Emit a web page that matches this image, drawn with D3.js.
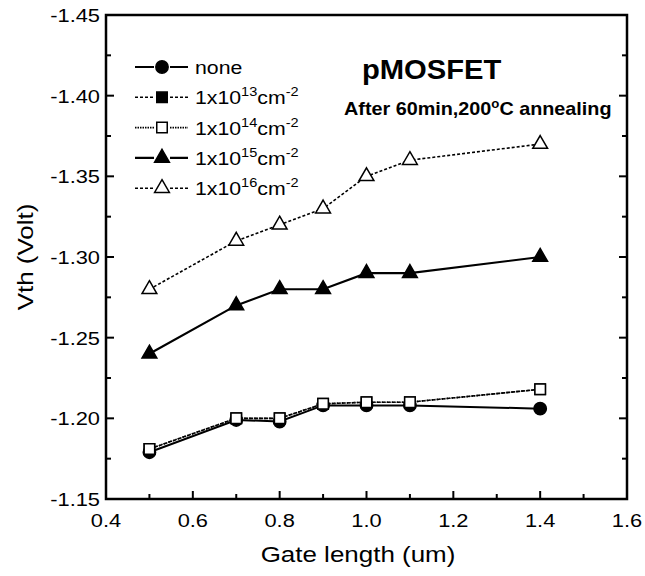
<!DOCTYPE html>
<html>
<head>
<meta charset="UTF-8">
<script src="https://d3js.org/d3.v7.min.js"></script>
<style>
  body { margin: 0; background: #fff; }
  text { font-family: "Liberation Sans", Arial, sans-serif; fill: #000; }
</style>
</head>
<body>
<svg width="645" height="576"></svg>
<script>
// gate length (um)
var gateLength = [0.5, 0.7, 0.8, 0.9, 1.0, 1.1, 1.4];
// threshold voltage (V) for each implant dose
var vthNone = [-1.179, -1.199, -1.198, -1.208, -1.208, -1.208, -1.206];
var vth1e13 = [-1.181, -1.200, -1.200, -1.209, -1.210, -1.210, -1.218];
var vth1e14 = [-1.181, -1.200, -1.200, -1.209, -1.210, -1.210, -1.218];
var vth1e15 = [-1.24, -1.27, -1.28, -1.28, -1.29, -1.29, -1.30];
var vth1e16 = [-1.28, -1.31, -1.32, -1.33, -1.35, -1.36, -1.37];
var doseExp = [null, 13, 14, 15, 16];

var xTicks = [0.4, 0.6, 0.8, 1.0, 1.2, 1.4, 1.6];
var yTicks = [-1.15, -1.20, -1.25, -1.30, -1.35, -1.40, -1.45];

var svg = d3.select("svg");
var pLeft = 106, pRight = 627, pTop = 15, pBottom = 499;

var x = d3.scaleLinear().domain([0.4, 1.6]).range([pLeft, pRight]);
var y = d3.scaleLinear().domain([-1.15, -1.45]).range([pBottom, pTop]);

// text helper, the scanned fonts are wider than Arial
function txt(g, px, py, s, size, anchor, sx, weight) {
  return g.append("text")
    .attr("transform", "translate(" + px + "," + py + ") scale(" + sx + ",1)")
    .attr("text-anchor", anchor)
    .style("font-size", size + "px")
    .style("font-weight", weight || "normal")
    .text(s);
}

// series styles
var series = [
  { v: vthNone, sym: d3.symbolCircle, size: 120, fill: "#000", dash: null, w: 2 },
  { v: vth1e13, sym: d3.symbolSquare, size: 110, fill: "#000", dash: "3,2", w: 1.6 },
  { v: vth1e14, sym: d3.symbolSquare, size: 110, fill: "#fff", dash: "1.5,1", w: 1.6 },
  { v: vth1e15, sym: d3.symbolTriangle, size: 95, fill: "#000", dash: null, w: 2.2 },
  { v: vth1e16, sym: d3.symbolTriangle, size: 95, fill: "#fff", dash: "3,2", w: 1.6 }
];

var line = d3.line().x(function(d) { return x(d[0]); }).y(function(d) { return y(d[1]); });

series.forEach(function(s) {
  var pts = gateLength.map(function(g, i) { return [g, s.v[i]]; });
  svg.append("path")
    .attr("d", line(pts))
    .attr("fill", "none")
    .attr("stroke", "#000")
    .attr("stroke-width", s.w)
    .attr("stroke-dasharray", s.dash);
  svg.selectAll(null).data(pts).enter().append("path")
    .attr("d", d3.symbol().type(s.sym).size(s.size))
    .attr("transform", function(d) { return "translate(" + x(d[0]) + "," + y(d[1]) + ")"; })
    .attr("fill", s.fill)
    .attr("stroke", "#000")
    .attr("stroke-width", 1.5);
});

// frame
svg.append("rect")
  .attr("x", pLeft).attr("y", pTop)
  .attr("width", pRight - pLeft).attr("height", pBottom - pTop)
  .attr("fill", "none").attr("stroke", "#000").attr("stroke-width", 2.5);

// x ticks, inward
var xMinor = [0.5, 0.7, 0.9, 1.1, 1.3, 1.5];
svg.selectAll(null).data(xTicks.slice(1, -1)).enter().append("line")
  .attr("x1", function(d) { return x(d); }).attr("x2", function(d) { return x(d); })
  .attr("y1", pBottom).attr("y2", pBottom - 8)
  .attr("stroke", "#000").attr("stroke-width", 2);
svg.selectAll(null).data(xMinor).enter().append("line")
  .attr("x1", function(d) { return x(d); }).attr("x2", function(d) { return x(d); })
  .attr("y1", pBottom).attr("y2", pBottom - 5)
  .attr("stroke", "#000").attr("stroke-width", 2);
xTicks.forEach(function(t) {
  txt(svg, x(t), 527, t.toFixed(1), 19, "middle", 1.15);
});

// y ticks, both sides inward
var yMinor = [-1.175, -1.225, -1.275, -1.325, -1.375, -1.425];
[pLeft, pRight].forEach(function(ax) {
  var dir = ax === pLeft ? 1 : -1;
  svg.selectAll(null).data(yTicks.slice(1, -1)).enter().append("line")
    .attr("x1", ax).attr("x2", ax + dir * 8)
    .attr("y1", function(d) { return y(d); }).attr("y2", function(d) { return y(d); })
    .attr("stroke", "#000").attr("stroke-width", 2);
  svg.selectAll(null).data(yMinor).enter().append("line")
    .attr("x1", ax).attr("x2", ax + dir * 5)
    .attr("y1", function(d) { return y(d); }).attr("y2", function(d) { return y(d); })
    .attr("stroke", "#000").attr("stroke-width", 2);
});
yTicks.forEach(function(t) {
  txt(svg, 100, y(t) + 7, t.toFixed(2), 19, "end", 1.15);
});

// axis titles
txt(svg, 358, 562, "Gate length (um)", 22, "middle", 1.18);
svg.append("text")
  .attr("transform", "translate(33," + ((pTop + pBottom) / 2) + ") rotate(-90) scale(1.18,1)")
  .attr("text-anchor", "middle")
  .style("font-size", "22px")
  .text("Vth (Volt)");

// annotations
txt(svg, 362, 79, "pMOSFET", 27, "start", 1.08, "bold");
var ann = txt(svg, 344, 115, "", 18, "start", 1.1, "bold");
ann.append("tspan").text("After 60min,200");
ann.append("tspan").attr("dy", -7).style("font-size", "12px").text("o");
ann.append("tspan").attr("dy", 7).text("C annealing");

// legend
var legTop = 67, legStep = 30.3;
series.forEach(function(s, i) {
  var ly = legTop + i * legStep;
  svg.append("line")
    .attr("x1", 135).attr("x2", 188).attr("y1", ly).attr("y2", ly)
    .attr("stroke", "#000").attr("stroke-width", s.w)
    .attr("stroke-dasharray", s.dash);
  svg.append("rect")
    .attr("x", 154).attr("y", ly - 8).attr("width", 16).attr("height", 16)
    .attr("fill", "#fff");
  svg.append("path")
    .attr("d", d3.symbol().type(s.sym).size(s.size))
    .attr("transform", "translate(162," + ly + ")")
    .attr("fill", s.fill).attr("stroke", "#000").attr("stroke-width", 1.5);
  var t = txt(svg, 195, ly + 7, "", 19, "start", 1.12);
  if (doseExp[i] === null) {
    t.append("tspan").text("none");
  } else {
    t.append("tspan").text("1x10");
    t.append("tspan").attr("dy", -8).style("font-size", "13px").text(doseExp[i]);
    t.append("tspan").attr("dy", 8).text("cm");
    t.append("tspan").attr("dy", -8).style("font-size", "13px").text("-2");
  }
});
</script>
</body>
</html>
